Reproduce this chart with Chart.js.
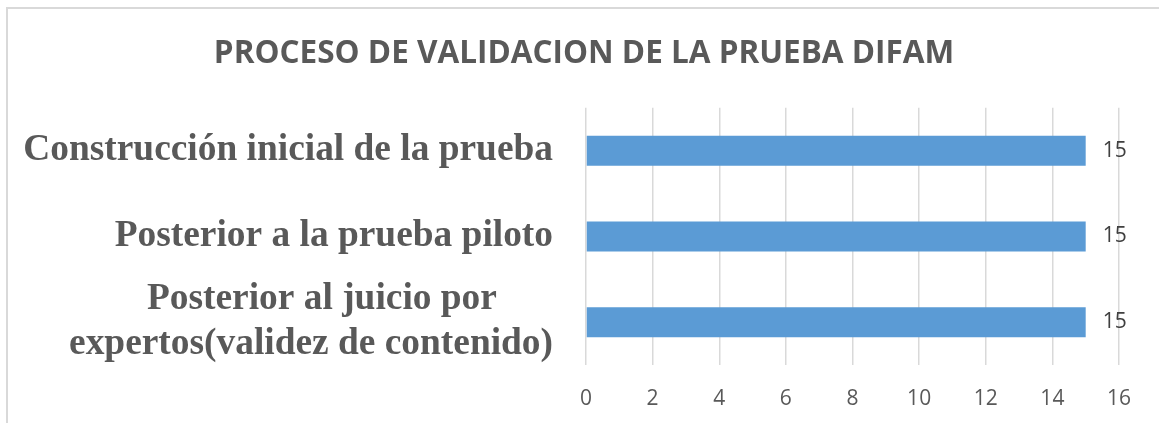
<!DOCTYPE html>
<html>
<head>
<meta charset="utf-8">
<script src="https://cdn.jsdelivr.net/npm/chart.js@4/dist/chart.umd.min.js"></script>
<style>
  html, body { margin: 0; padding: 0; background: #ffffff; overflow: hidden; }
  #frame { position: absolute; left: 6px; top: 7px; width: 1200px; height: 500px;
           border-left: 2px solid #d9d9d9; border-top: 2px solid #d9d9d9; }
  #wrap { position: absolute; left: 0; top: 0; width: 1159px; height: 423px; }
</style>
</head>
<body>
<div id="frame"></div>
<div id="wrap"><canvas id="c" width="1159" height="423"></canvas></div>
<script>
const titleText = 'PROCESO DE VALIDACION DE LA PRUEBA DIFAM';
const categories = [
  'Construcción inicial de la prueba',
  'Posterior a la prueba piloto',
  ['Posterior al juicio por', 'expertos(validez de contenido)']
];
const values = [15, 15, 15];
const xMin = 0, xMax = 16, xStep = 2;

const valueLabels = {
  id: 'valueLabels',
  afterDatasetsDraw(chart) {
    const ctx = chart.ctx;
    const meta = chart.getDatasetMeta(0);
    ctx.save();
    ctx.font = '21px "Open Sans"';
    ctx.fillStyle = '#404040';
    ctx.textAlign = 'left';
    ctx.textBaseline = 'middle';
    meta.data.forEach((bar, i) => {
      ctx.fillText(String(values[i]), bar.x + 17, bar.y);
    });
    ctx.restore();
  }
};

new Chart(document.getElementById('c'), {
  type: 'bar',
  data: {
    labels: categories,
    datasets: [{
      data: values,
      backgroundColor: '#5B9BD5',
      borderWidth: 0,
      barPercentage: 0.35,
      categoryPercentage: 1.0
    }]
  },
  plugins: [valueLabels],
  options: {
    indexAxis: 'y',
    responsive: false,
    animation: false,
    layout: { padding: { left: 0, right: 40, top: 0, bottom: 0 } },
    plugins: {
      legend: { display: false },
      tooltip: { enabled: false },
      title: {
        display: true,
        text: '\u00a0\u00a0\u00a0\u00a0\u00a0\u00a0' + titleText,
        color: '#595959',
        font: { family: '"Open Sans"', size: 31.5, weight: 'bold', lineHeight: 1.2 },
        padding: { top: 35, bottom: 35 }
      }
    },
    scales: {
      x: {
        min: xMin, max: xMax,
        ticks: {
          stepSize: xStep,
          color: '#595959',
          font: { family: '"Open Sans"', size: 21 },
          padding: 21,
          autoSkip: false
        },
        grid: { color: '#d9d9d9', lineWidth: 1.5, drawTicks: false },
        border: { display: false },
        afterFit(scale) { scale.height = 58; }
      },
      y: {
        ticks: {
          color: '#595959',
          font: { family: '"Liberation Serif"', size: 37.4, weight: 'bold', lineHeight: 1.2 },
          padding: 33,
          autoSkip: false,
          callback(value, index) {
            const lab = categories[index];
            if (Array.isArray(lab)) {
              return [lab[0] + '\u00a0\u00a0\u00a0\u00a0\u00a0\u00a0', lab[1]];
            }
            return lab;
          }
        },
        grid: { display: false, drawTicks: false },
        border: { display: false },
        afterFit(scale) { scale.width = 586; }
      }
    }
  }
});
</script>
</body>
</html>
